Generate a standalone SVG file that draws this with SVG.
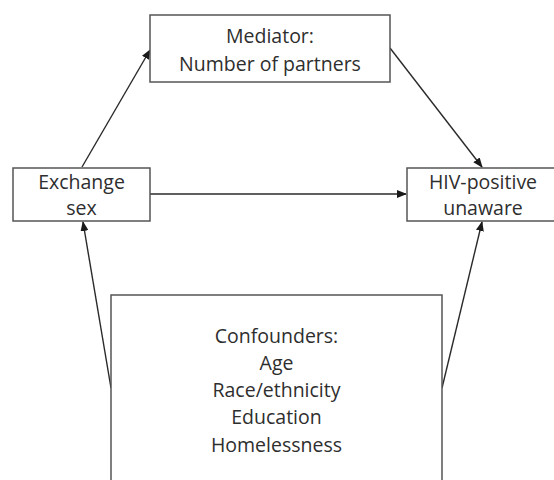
<svg xmlns="http://www.w3.org/2000/svg" width="554" height="480" viewBox="0 0 554 480">
  <style>
    .box { fill: #ffffff; stroke: #555555; stroke-width: 1.5; }
    .label { font-family: "Open Sans", "Liberation Sans", sans-serif; font-size: 19.5px; fill: #2e2e2e; text-anchor: middle; }
    .edge { stroke: #2a2a2a; stroke-width: 1.4; fill: none; marker-end: url(#arrow); }
  </style>
  <defs>
    <marker id="arrow" markerUnits="userSpaceOnUse" markerWidth="10" markerHeight="8" refX="9" refY="4" orient="auto">
      <path d="M0,0 L10,4 L0,8 Z" fill="#1a1a1a"/>
    </marker>
  </defs>
  <rect width="554" height="480" fill="#ffffff"/>

  <!-- connectors -->
  <g id="connectors">
    <line class="edge" x1="82" y1="167" x2="150" y2="50"/>
    <line class="edge" x1="390" y1="48" x2="482" y2="167"/>
    <line class="edge" x1="150" y1="194" x2="406" y2="194"/>
    <line class="edge" x1="111" y1="388" x2="83" y2="222"/>
    <line class="edge" x1="442" y1="388" x2="482" y2="222"/>
  </g>

  <!-- nodes -->
  <g id="mediator">
    <rect class="box" x="150" y="15" width="240" height="67"/>
    <text class="label" x="270" y="43">Mediator:</text>
    <text class="label" x="270" y="71">Number of partners</text>
  </g>
  <g id="exchange-sex">
    <rect class="box" x="13" y="168" width="137" height="53"/>
    <text class="label" x="81.5" y="189">Exchange</text>
    <text class="label" x="81.5" y="215">sex</text>
  </g>
  <g id="hiv-unaware">
    <rect class="box" x="407" y="168" width="160" height="53"/>
    <text class="label" x="483" y="189">HIV-positive</text>
    <text class="label" x="483" y="215">unaware</text>
  </g>
  <g id="confounders">
    <rect class="box" x="111" y="295" width="331" height="200"/>
    <text class="label" x="276.5" y="343">Confounders:</text>
    <text class="label" x="276.5" y="370">Age</text>
    <text class="label" x="276.5" y="397">Race/ethnicity</text>
    <text class="label" x="276.5" y="424">Education</text>
    <text class="label" x="276.5" y="452">Homelessness</text>
  </g>
</svg>
